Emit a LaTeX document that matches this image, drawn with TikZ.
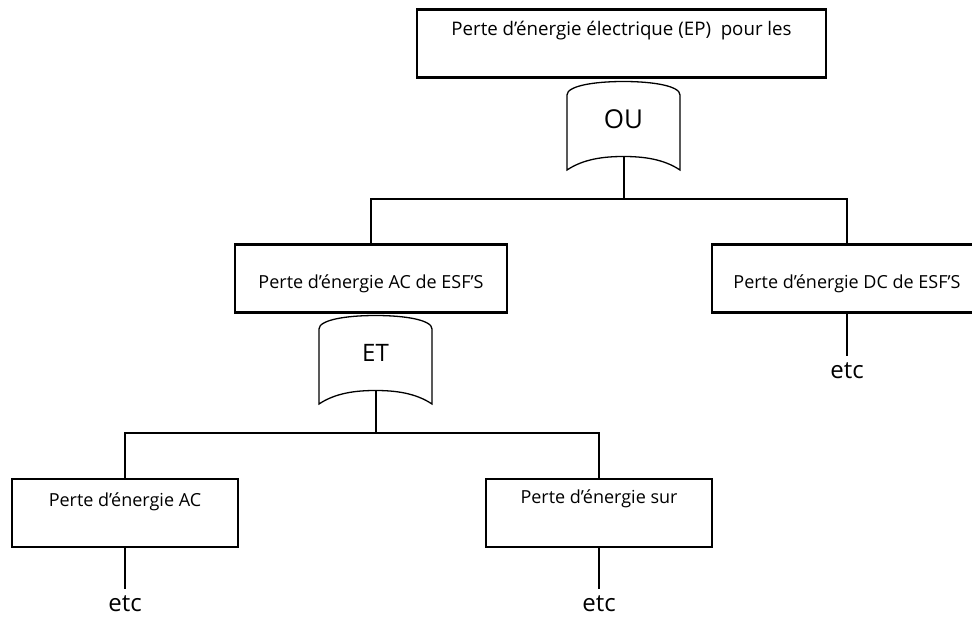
\documentclass[tikz,border=0pt]{standalone}
\usepackage{fontspec}
\setmainfont{Open Sans}
\begin{document}
\begin{tikzpicture}[x=1pt,y=-1pt,
  evbox/.style={draw, line width=2.2pt, rectangle, inner sep=0pt,
    font=\fontsize{18}{21}\selectfont, minimum height=68pt},
  gatetext/.style={inner sep=0pt, minimum width=113pt, minimum height=75pt,
    font=\fontsize{26}{30}\selectfont},
  etclabel/.style={inner sep=0pt, font=\fontsize{24}{28}\selectfont,
    text height=22pt, text depth=0pt, anchor=north},
  wire/.style={line width=2pt},
  gate/.pic={
    \draw[line width=1.3pt]
      (-56.5,-24) .. controls (-56.5,-33) and (-30,-37.5) .. (0,-37.5)
      .. controls (30,-37.5) and (56.5,-33) .. (56.5,-24)
      -- (56.5,51) .. controls (40,40) and (20,37.5) .. (0,37.5)
      .. controls (-20,37.5) and (-40,40) .. (-56.5,51) -- cycle;
  }
]
\useasboundingbox (0,0) rectangle (972,617);

% top event
\node[evbox, font=\fontsize{18.7}{22}\selectfont, minimum width=409pt,
  text height=12pt, text depth=27pt]
  (top) at (621.5,43.5) {Perte d’énergie électrique (EP)\ \ pour les};

% OR gate
\node[gatetext] (ou) at (623.5,119) {OU};
\pic at (ou.center) {gate};

% intermediate events
\node[evbox, minimum width=272pt, text height=25pt, text depth=4pt]
  (ac) at (371,278.5) {Perte d’énergie AC de ESF’S};
\node[evbox, minimum width=270pt, text height=25pt, text depth=4pt]
  (dc) at (847,278.5) {Perte d’énergie DC de ESF’S};

% AND gate
\node[gatetext, font=\fontsize{24}{28}\selectfont] (et) at (375.5,353) {ET};
\pic at (et.center) {gate};

% basic events
\node[evbox, minimum width=226pt, text height=12pt, text depth=26pt]
  (bl) at (125,513) {Perte d’énergie AC};
\node[evbox, minimum width=226pt, text height=12pt, text depth=32pt]
  (br) at (599,513) {Perte d’énergie sur};

% continuation labels
\node[etclabel] (e1) at (847,356) {etc};
\node[etclabel] (e2) at (125,589) {etc};
\node[etclabel] (e3) at (599,589) {etc};

% buses
\coordinate (bus1) at (623.5,199);
\coordinate (bus2) at (375.5,433);
\draw[wire] (ou.south) -- (bus1);
\draw[wire] (ac.north) |- (bus1) -| (dc.north);
\draw[wire] (et.south) -- (bus2);
\draw[wire] (bl.north) |- (bus2) -| (br.north);

\draw[wire] (dc.south) -- (e1.north);
\draw[wire] (bl.south) -- (e2.north);
\draw[wire] (br.south) -- (e3.north);
\end{tikzpicture}
\end{document}
